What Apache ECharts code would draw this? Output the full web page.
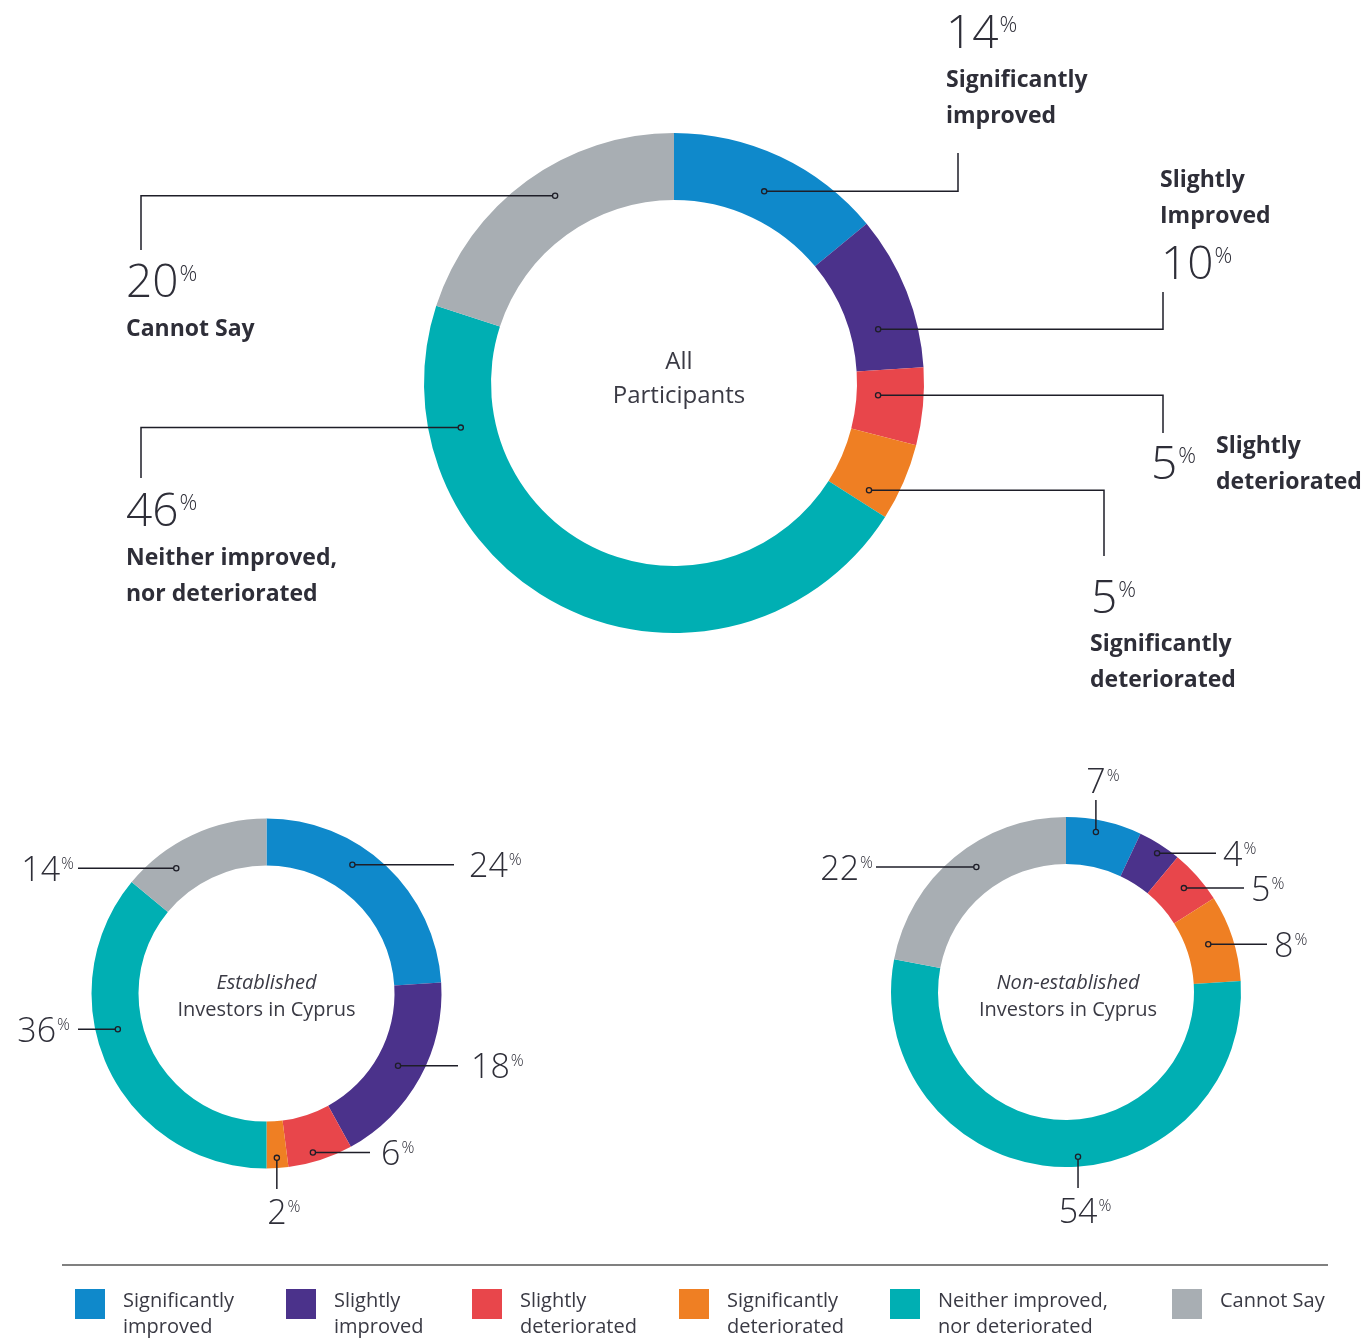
<!DOCTYPE html>
<html><head><meta charset="utf-8">
<script src="https://cdn.jsdelivr.net/npm/echarts@6/dist/echarts.min.js"></script>
<style>html,body{margin:0;padding:0;background:#fff}#c{width:1363px;height:1338px}</style>
</head><body><div id="c"></div><script>
// ---------- data ----------
const categories = ['Significantly improved','Slightly improved','Slightly deteriorated','Significantly deteriorated','Neither improved, nor deteriorated','Cannot Say'];
const legendLabels = [['Significantly','improved'],['Slightly','improved'],['Slightly','deteriorated'],['Significantly','deteriorated'],['Neither improved,','nor deteriorated'],['Cannot Say',' ']];
const allLabels = ['Significantly\nimproved','Slightly\nImproved','Slightly\ndeteriorated','Significantly\ndeteriorated','Neither improved,\nnor deteriorated','Cannot Say'];
const allValues = [14,10,5,5,46,20];
const establishedValues = [24,18,6,2,36,14];
const nonEstablishedValues = [7,4,5,8,54,22];
const allTitle = ['All','Participants'];
const establishedTitle = ['Established','Investors in Cyprus'];
const nonEstablishedTitle = ['Non-established','Investors in Cyprus'];

// ---------- style / layout ----------
const colors = ['#0f89cb','#4b328b','#e8464b','#ef7f23','#00afb3','#a8aeb3'];
const FONT = '"Open Sans", "Noto Sans", sans-serif';
const INK = '#2e2e38';
const LINE = '#1e1e28';

const donuts = [
  { values: allValues, center: [674, 383], radius: [183, 250], numSize: 46, pctSize: 22, pctPad: 3,
    title: allTitle, titleY: 379, titleSize: 24, titleLH: 34, titleItalic: false, titleDx: 5,
    leaders: [
      {frac:.5,  rf:.43, path:'hv', ex:958,  ey:153, num:[946,35],   label:[946,98]},
      {frac:.69, rf:.42, path:'hv', ex:1163, ey:292, num:[1161,266], label:[1160,198]},
      {frac:.39, rf:.32, path:'hv', ex:1163, ey:433, num:[1151,466], label:[1216,464]},
      {frac:.8,  rf:.59, path:'hv', ex:1104, ey:556, num:[1091,600], label:[1090,662]},
      {frac:.82, rf:.52, path:'hv', ex:141,  ey:478, num:[126,513],  label:[126,576]},
      {frac:.55, rf:.58, path:'hv', ex:141,  ey:250, num:[126,284],  label:[126,329]}
    ]},
  { values: establishedValues, center: [266.5, 993.5], radius: [128, 175], numSize: 34, pctSize: 16, pctPad: 2,
    title: establishedTitle, titleY: 997, titleSize: 20, titleLH: 27, titleItalic: true, titleDx: 0,
    leaders: [
      {frac:.39, rf:.57, path:'h', ex:454, lx:469},
      {frac:.5,  rf:.47, path:'h', ex:458, lx:471},
      {frac:.58, rf:.8,  path:'h', ex:370, lx:381},
      {frac:.5,  rf:.78, path:'v', ey:1189},
      {frac:.59, rf:.53, path:'h', ex:78, lx:70},
      {frac:.29, rf:.56, path:'h', ex:78, lx:74}
    ]},
  { values: nonEstablishedValues, center: [1066, 992], radius: [128, 175], numSize: 34, pctSize: 16, pctPad: 2,
    title: nonEstablishedTitle, titleY: 997, titleSize: 20, titleLH: 27, titleItalic: true, titleDx: 2,
    leaders: [
      {frac:.42, rf:.74, path:'v', ey:800},
      {frac:.56, rf:.81, path:'h', ex:1216, lx:1223},
      {frac:.5,  rf:.62, path:'h', ex:1244, lx:1251},
      {frac:.48, rf:.47, path:'h', ex:1267, lx:1274},
      {frac:.46, rf:.79, path:'v', ey:1188},
      {frac:.55, rf:.55, path:'h', ex:876, lx:873}
    ]}
];
const legendX = [75, 286, 472, 679, 890, 1172];

function ringPoint(d, idx, frac, rf) {
  const total = d.values.reduce((a, b) => a + b, 0);
  let cum = 0;
  for (let k = 0; k < idx; k++) cum += d.values[k];
  const t = (cum + frac * d.values[idx]) / total * Math.PI * 2;
  const r = d.radius[0] + rf * (d.radius[1] - d.radius[0]);
  return [d.center[0] + r * Math.sin(t), d.center[1] - r * Math.cos(t)];
}

function numText(d, v, x, y, align) {
  return { type: 'text', z: 110, style: {
    text: '{n|' + v + '}{p|%}', x: x, y: y, align: align, verticalAlign: 'middle',
    rich: {
      n: { fontSize: d.numSize, lineHeight: d.numSize, fontFamily: FONT, fontWeight: 300, fill: INK },
      p: { fontSize: d.pctSize, lineHeight: d.pctSize, fontFamily: FONT, fontWeight: 300, fill: INK,
           verticalAlign: 'top', padding: [d.pctPad, 0, 0, 1] }
    }}};
}

const graphics = [];
donuts.forEach((d, di) => {
  d.leaders.forEach((L, i) => {
    const p = ringPoint(d, i, L.frac, L.rf);
    let pts;
    if (L.path === 'hv') pts = [p, [L.ex, p[1]], [L.ex, L.ey]];
    else if (L.path === 'h') pts = [p, [L.ex, p[1]]];
    else pts = [p, [p[0], L.ey]];
    graphics.push({ type: 'polyline', z: 100, shape: { points: pts }, style: { stroke: LINE, lineWidth: 1.5, fill: null } });
    graphics.push({ type: 'circle', z: 105, shape: { cx: p[0], cy: p[1], r: 2.6 }, style: { fill: colors[i], stroke: LINE, lineWidth: 1.3 } });
    const v = d.values[i];
    if (L.path === 'hv') {
      graphics.push(numText(d, v, L.num[0], L.num[1], 'left'));
      graphics.push({ type: 'text', z: 110, style: {
        text: allLabels[i], x: L.label[0], y: L.label[1], align: 'left', verticalAlign: 'middle',
        fontSize: 23, lineHeight: 36, fontFamily: FONT, fontWeight: 'bold', fill: INK }});
    } else if (L.path === 'h') {
      const right = L.ex > p[0];
      graphics.push(numText(d, v, L.lx, p[1] + 3, right ? 'left' : 'right'));
    } else {
      const down = L.ey > p[1];
      graphics.push(numText(d, v, p[0] + 7, L.ey + (down ? 25 : -17), 'center'));
    }
  });
  // centre caption
  graphics.push({ type: 'text', z: 110, style: {
    text: '{a|' + d.title[0] + '}\n{b|' + d.title[1] + '}',
    x: d.center[0] + d.titleDx, y: d.titleY, align: 'center', verticalAlign: 'middle',
    rich: {
      a: { fontSize: d.titleSize, lineHeight: d.titleLH, fontFamily: FONT, fill: '#3a3a44', fontStyle: d.titleItalic ? 'italic' : 'normal' },
      b: { fontSize: d.titleSize, lineHeight: d.titleLH, fontFamily: FONT, fill: '#3a3a44' }
    }}});
});
graphics.push({ type: 'line', z: 100, shape: { x1: 62, y1: 1265, x2: 1328, y2: 1265 }, style: { stroke: '#808080', lineWidth: 2 } });

const legendRich = {
  s: { fontFamily: FONT, fontSize: 2, lineHeight: 20, color: 'rgba(0,0,0,0)' },
  a: { fontFamily: FONT, fontSize: 20, lineHeight: 26, color: '#3a3a44' }
};
const option = {
  animation: false,
  color: colors,
  legend: categories.map((n, i) => ({
    left: legendX[i], top: 1277, padding: 0, orient: 'horizontal',
    itemWidth: 30, itemHeight: 30, icon: 'rect', selectedMode: false,
    data: [n], formatter: () => '{s| }\n{a|' + legendLabels[i][0] + '}\n{a|' + legendLabels[i][1] + '}',
    textStyle: { fontFamily: FONT, fontSize: 20, color: '#3a3a44', padding: [0, 0, 0, 13], rich: legendRich }
  })),
  series: donuts.map(d => ({
    type: 'pie', center: d.center, radius: d.radius, startAngle: 90, clockwise: true,
    silent: true, label: { show: false }, labelLine: { show: false },
    emphasis: { disabled: true }, itemStyle: { borderWidth: 0 },
    data: categories.map((n, i) => ({ name: n, value: d.values[i] }))
  })),
  graphic: { elements: graphics }
};
const chart = echarts.init(document.getElementById('c'), null, { renderer: 'canvas' });
chart.setOption(option);
</script></body></html>
